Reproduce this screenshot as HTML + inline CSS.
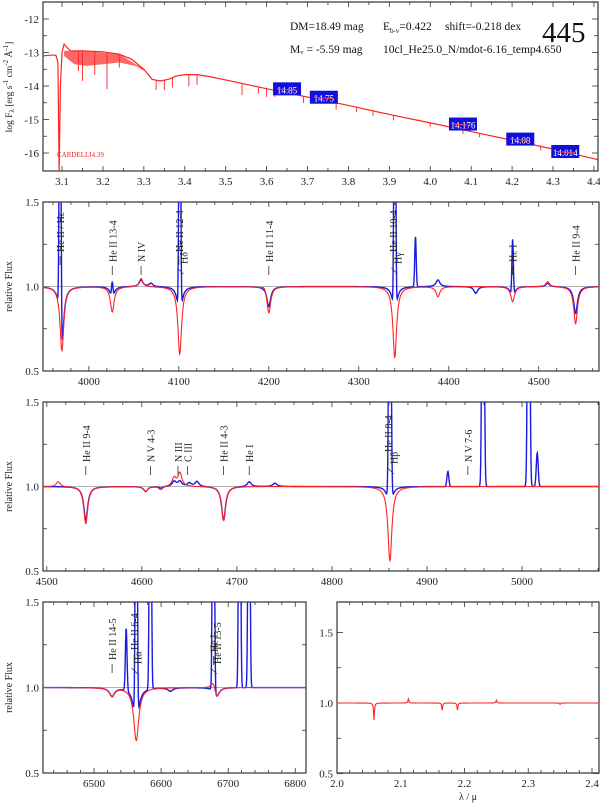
<!DOCTYPE html>
<html><head><meta charset="utf-8"><style>
html,body{margin:0;padding:0;background:#fff}
svg{display:block;font-family:"Liberation Serif",serif}
</style></head><body>
<svg id="fig" width="600" height="806" viewBox="0 0 600 806" xmlns="http://www.w3.org/2000/svg">
<defs>
<clipPath id="c1"><rect x="43" y="2" width="555" height="169"/></clipPath>
<clipPath id="c2"><rect x="43" y="202" width="556" height="169"/></clipPath>
<clipPath id="c3"><rect x="43" y="402" width="556" height="169"/></clipPath>
<clipPath id="c4"><rect x="43" y="602" width="263" height="171"/></clipPath>
<clipPath id="c5"><rect x="337" y="602" width="262" height="171"/></clipPath>
</defs>
</svg>
<script>
// ---- SED panel data ----
const sedX = [3.054,3.07,3.085,3.090,3.093,3.096,3.100,3.105,3.12,3.15,3.2,3.24,3.27,3.30,3.32,3.34,3.36,3.38,3.40,3.43,3.46,3.5,3.55,3.6,3.7,3.8,3.9,4.0,4.1,4.2,4.3,4.41];
const sedY = [-13.1,-13.08,-13.08,-13.3,-16.6,-14.0,-13.0,-12.75,-12.95,-12.95,-12.98,-13.05,-13.2,-13.5,-13.8,-13.85,-13.8,-13.7,-13.66,-13.66,-13.72,-13.82,-13.95,-14.08,-14.33,-14.58,-14.85,-15.1,-15.36,-15.62,-15.88,-16.2];
const forestX = [3.105,3.13,3.16,3.2,3.24,3.28,3.30];
const forestY = [-13.1,-13.35,-13.4,-13.35,-13.3,-13.4,-13.55];
const sedLineX = [3.14,3.15,3.18,3.21,3.24,3.33,3.35,3.37,3.41,3.43,3.54,3.58,3.6,3.62,3.69,3.77,3.82,3.86,3.91,4.0,4.08,4.12,4.27];
const sedLineD = [0.6,0.9,0.7,1.1,0.4,0.3,0.3,0.3,0.35,0.3,0.35,0.2,0.25,0.2,0.2,0.2,0.15,0.15,0.15,0.12,0.12,0.12,0.12];
const photX = [3.65,3.74,4.08,4.22,4.33];
const photY = [-14.1,-14.35,-15.15,-15.6,-15.97];
const photLabels = ["14.85","14.75","14.176","14.08","14.014"];
// ---- Panel 2 lines (4000-4550) ----
const p2C = [3970,4026,4058,4069,4101,4195,4200,4340,4388,4430,4471,4510,4541];
const p2Model = [-0.38,-0.15,0.05,0,-0.40,0.02,-0.16,-0.42,-0.06,0,-0.09,0.03,-0.22];
const p2Obs = [-0.35,-0.07,0.04,0.02,-0.20,0,-0.12,-0.18,0.04,-0.04,-0.07,0.02,-0.16];
const p2Spike = [3968,4026,4101,4340,4363,4471];
const p2SpikeAmp = [3,0.1,3,3,0.3,0.35];
// ---- Panel 3 lines (4500-5080) ----
const p3C = [4512,4541,4604,4620,4634,4640,4650,4658,4686,4713,4740,4861];
const p3Model = [0.03,-0.22,-0.03,-0.02,0.05,0.08,0,0,-0.2,0,0,-0.44];
const p3Obs = [0.0,-0.2,-0.03,-0.01,0.03,0.03,0.02,0.03,-0.2,0.03,0.02,-0.15];
const p3Spike = [4861,4922,4959,5007,5016];
const p3SpikeAmp = [3,0.09,3,3,0.2];
// ---- Panel 4 lines (6450-6820) ----
const p4C = [6527,6563,6614,6678,6683];
const p4Model = [-0.05,-0.31,0,0.05,-0.07];
const p4Obs = [-0.05,-0.22,-0.02,0,-0.05];
const p4Spike = [6548,6563,6584,6678,6717,6731];
const p4SpikeAmp = [0.37,3,3,3,3,3];
// ---- Panel 5 (K band, micron) ----
const p5C = [2.058,2.112,2.165,2.189,2.25,2.35];
const p5Model = [-0.12,0.03,-0.05,-0.05,0.02,-0.01];

const NS="http://www.w3.org/2000/svg";
const svg=document.getElementById('fig');
function el(tag,attrs,parent){const e=document.createElementNS(NS,tag);for(const k in attrs)e.setAttribute(k,attrs[k]);(parent||svg).appendChild(e);return e;}
function scale(d0,d1,r0,r1){return v=>r0+(v-d0)/(d1-d0)*(r1-r0);}

function frame(P){
  const g=el('g',{});
  
  
  const r=el('rect',{x:P.l,y:P.t,width:P.r-P.l,height:P.b-P.t,fill:'none',stroke:'#333','stroke-width':1.2},g);
  
  
  for(let v=Math.ceil(P.x0/P.xm)*P.xm; v<=P.x1; v+=P.xm){
    const x=P.sx(v); const maj=Math.abs(v/P.xM-Math.round(v/P.xM))<1e-6;
    const L=maj?5:3;
    el('line',{x1:x,x2:x,y1:P.b,y2:P.b-L,stroke:'#333','stroke-width':0.8},g);
    el('line',{x1:x,x2:x,y1:P.t,y2:P.t+L,stroke:'#333','stroke-width':0.8},g);
    if(maj){const t=el('text',{x:x,y:P.b+14,'text-anchor':'middle','font-size':11,fill:'#222'},g);
      t.textContent=P.xfmt(v);
      
      }
  }
  for(let i=0;i<P.yt.length;i++){
    const v=P.yt[i]; const y=P.sy(v); const lab=P.yl[i];
    const L=lab!==''?6:4;
    el('line',{x1:P.l,x2:P.l+L,y1:y,y2:y,stroke:'#333','stroke-width':0.8},g);
    el('line',{x1:P.r,x2:P.r-L,y1:y,y2:y,stroke:'#333','stroke-width':0.8},g);
    if(lab!==''){const t=el('text',{x:P.l-4,y:y+4,'text-anchor':'end','font-size':11,fill:'#222'},g);
      t.textContent=lab;
      
      }
  }
  return g;
}
function prof(x,c,a,w){const u=(x-c)/w;return a/(1+u*u);}
function gprof(x,c,a,w){const u=(x-c)/w;return a*Math.exp(-0.5*u*u);}
function spec(P,cs,amps,w,spikes,spAmp,spW,color,sw,clip,name){
  let d='';const n=Math.round((P.r-P.l)*3);
  for(let i=0;i<=n;i++){
    const x=P.x0+(P.x1-P.x0)*i/n; let f=1;
    for(let j=0;j<cs.length;j++) f+=prof(x,cs[j],amps[j],w);
    if(spikes) for(let j=0;j<spikes.length;j++) f+=gprof(x,spikes[j],spAmp[j],spW);
    let y=P.sy(f); y=Math.max(P.t-20,Math.min(P.b+20,y));
    d+=(i?'L':'M')+P.sx(x).toFixed(2)+','+y.toFixed(2);
  }
  const p=el('path',{d:d,fill:'none',stroke:color,'stroke-width':sw,'clip-path':'url(#'+clip+')'});
  
  
}
function ylab(x,y,txt,name){
  const t=el('text',{x:x,y:y,'text-anchor':'middle','font-size':10,fill:'#222',transform:'rotate(-90 '+x+' '+y+')'});
  t.textContent=txt;
  
  
  return t;
}
function ident(P,w,txt,yEnd,slant,name){
  const x=P.sx(w);
  const g=el('g',{});
  
  
  if(slant){el('line',{x1:x,y1:yEnd+12,x2:x-6,y2:yEnd+6,stroke:'#333','stroke-width':0.7},g);}
  else el('line',{x1:x,y1:yEnd+4,x2:x,y2:yEnd+13,stroke:'#333','stroke-width':0.8},g);
  const tx=x+4, ty=yEnd+(slant?2:0);
  const t=el('text',{x:tx,y:ty,'text-anchor':'start','font-size':10,fill:'#222',transform:'rotate(-90 '+tx+' '+ty+')'},g);
  t.textContent=txt;
}

// ---------- Panel 1 : SED ----------
const P1={name:'sed-panel',l:43,r:598,t:2,b:171,x0:3.0535,x1:4.41,xm:0.05,xM:0.1,xfmt:v=>v.toFixed(1)};
P1.sx=scale(P1.x0,P1.x1,P1.l,P1.r);P1.sy=v=>19+(-12-v)*33.5;
P1.yt=[-12,-12.5,-13,-13.5,-14,-14.5,-15,-15.5,-16];P1.yl=['-12','','-13','','-14','','-15','','-16'];
frame(P1);
{
  let d='';for(let i=0;i<sedX.length;i++)d+=(i?'L':'M')+P1.sx(sedX[i]).toFixed(2)+','+P1.sy(sedY[i]).toFixed(2);
  let f='M'+P1.sx(forestX[0])+','+P1.sy(-12.95);
  for(let i=0;i<forestX.length;i++)f+='L'+P1.sx(forestX[i]).toFixed(2)+','+P1.sy(forestY[i]).toFixed(2);
  f+='L'+P1.sx(3.30)+','+P1.sy(-13.5)+'L'+P1.sx(3.24)+','+P1.sy(-13.05)+'L'+P1.sx(3.15)+','+P1.sy(-12.95)+'Z';
  const fp=el('path',{d:f,fill:'#f33','fill-opacity':0.75,stroke:'none','clip-path':'url(#c1)'});
  
  
  for(let i=0;i<sedLineX.length;i++){
    let yc=-13;for(let j=1;j<sedX.length;j++)if(sedX[j]>=sedLineX[i]){const k=(sedLineX[i]-sedX[j-1])/(sedX[j]-sedX[j-1]);yc=sedY[j-1]+k*(sedY[j]-sedY[j-1]);break;}
    const ln=el('line',{x1:P1.sx(sedLineX[i]),x2:P1.sx(sedLineX[i]),y1:P1.sy(yc),y2:P1.sy(yc-sedLineD[i]),stroke:'#f22','stroke-width':0.9,'clip-path':'url(#c1)'});
    
    
  }
  const p=el('path',{d:d,fill:'none',stroke:'#f22','stroke-width':1.2,'clip-path':'url(#c1)'});
  
  
  for(let i=0;i<photX.length;i++){
    const cx=P1.sx(photX[i]),cy=P1.sy(photY[i]);
    const r=el('rect',{x:cx-14,y:cy-7,width:28,height:13,fill:'#1010dd'});
    
    
    const t=el('text',{x:cx,y:cy+4,'text-anchor':'middle','font-size':9,fill:'#fff'});
    t.textContent=photLabels[i];
    
    
    el('line',{x1:cx-10,x2:cx+10,y1:cy-0.5,y2:cy+1,stroke:'#f44','stroke-width':1});
  }
  const c=el('text',{x:57,y:157,'font-size':7,fill:'#e22'});c.textContent='CARDELLI4.39';
  
  const info=[[290,30,'DM=18.49 mag','distance-modulus'],[445,30,'shift=-0.218 dex','flux-shift'],[290,53,'M\u1d65 =  -5.59 mag','absolute-magnitude'],[383,53,'10cl_He25.0_N/mdot-6.16_temp4.650','model-name']];
  for(const a of info){const t=el('text',{x:a[0],y:a[1],'font-size':11.5,fill:'#111'});t.textContent=a[2];}
  const e=el('text',{x:383,y:30,'font-size':11.5,fill:'#111'});e.innerHTML='E<tspan font-size="7" dy="3">b-v</tspan><tspan dy="-3">=0.422</tspan>';
  
  const n=el('text',{x:542,y:42,'font-size':29,fill:'#111'});n.textContent='445';
  
  const yl=el('text',{x:12,y:87,'text-anchor':'middle','font-size':9.5,fill:'#222',transform:'rotate(-90 12 87)'});
  yl.innerHTML='log F<tspan font-size="7" dy="2">\u03bb</tspan><tspan dy="-2"> [erg s</tspan><tspan font-size="7" dy="-4">-1</tspan><tspan dy="4"> cm</tspan><tspan font-size="7" dy="-4">-2</tspan><tspan dy="4"> \u00c5</tspan><tspan font-size="7" dy="-4">-1</tspan><tspan dy="4">]</tspan>';
  
}

function specPanel(P,clip,cs,model,obs,sp,spA,wM,wO,idents){
  frame(P);
  const g=el('line',{x1:P.l,x2:P.r,y1:P.sy(1),y2:P.sy(1),stroke:'#999','stroke-width':0.8});
  
  if(obs) spec(P,cs,obs,wO,sp,spA,P.spW,'#1a1ae0',1.4,clip,'observed-spectrum');
  spec(P,cs,model,wM,null,null,0,'#f22',1.1,clip,'model-spectrum');
  ylab(12,(P.t+P.b)/2,'relative Flux','y-axis-title');
  for(const a of idents) ident(P,a[0],a[1],a[2],a[3],'line-id');
}
const yt=[0.5,0.75,1,1.25,1.5],ylL=['0.5','','1.0','','1.5'];
const P2={name:'blue-spectrum-panel-1',l:43,r:599,t:202,b:371,x0:3949,x1:4567,xm:20,xM:100,xfmt:v=>v.toFixed(0),yt:yt,yl:ylL,spW:0.8};
P2.sx=scale(P2.x0,P2.x1,P2.l,P2.r);P2.sy=scale(0.5,1.5,371,202);
specPanel(P2,'c2',p2C,p2Model,p2Obs,p2Spike,p2SpikeAmp,2.5,2.5,[[3968,'He II / H\u03b5',252,false],[4026,'He II 13-4',262,false],[4058,'N IV',262,false],[4100,'He II 12-4',252,false],[4105,'H\u03b4',262,true],[4200,'He II 11-4',262,false],[4338,'He II 10-4',252,false],[4343,'H\u03b3',262,true],[4471,'He I',262,false],[4541,'He II 9-4',262,false]]);

const P3={name:'blue-spectrum-panel-2',l:43,r:599,t:402,b:571,x0:4496,x1:5081,xm:20,xM:100,xfmt:v=>v.toFixed(0),yt:yt,yl:ylL,spW:1};
P3.sx=scale(P3.x0,P3.x1,P3.l,P3.r);P3.sy=scale(0.5,1.5,571,402);
specPanel(P3,'c3',p3C,p3Model,p3Obs,p3Spike,p3SpikeAmp,2.5,2.5,[[4541,'He II 9-4',462,false],[4609,'N V 4-3',462,false],[4638,'N III',462,false],[4648,'C III',462,false],[4686,'He II 4-3',462,false],[4713,'He I',462,false],[4859,'He II 8-4',452,false],[4865,'H\u03b2',462,true],[4943,'N V 7-6',462,false]]);

const P4={name:'halpha-panel',l:43,r:306,t:602,b:773,x0:6424,x1:6816,xm:20,xM:100,xfmt:v=>v.toFixed(0),yt:yt,yl:ylL,spW:1.2};
P4.sx=scale(P4.x0,P4.x1,P4.l,P4.r);P4.sy=scale(0.5,1.5,773,602);
specPanel(P4,'c4',p4C,p4Model,p4Obs,p4Spike,p4SpikeAmp,4.5,4.5,[[6527,'He II 14-5',660,false],[6560,'He II 6-4',650,false],[6565,'H\u03b1',662,true],[6678,'He I',652,false],[6683,'He II 13-5',662,true]]);

const P5={name:'k-band-panel',l:337,r:599,t:602,b:773,x0:2.0,x1:2.411,xm:0.02,xM:0.1,xfmt:v=>v.toFixed(1),yt:[0.5,0.75,1,1.25,1.5],yl:['0.5','','1.0','','1.5'],spW:0.001};
P5.sx=scale(P5.x0,P5.x1,P5.l,P5.r);P5.sy=v=>703-(v-1)*141;
frame(P5);
spec(P5,p5C,p5Model,0.0008,null,null,0,'#f22',1.1,'c5','model-spectrum-k');
{const t=el('text',{x:468,y:800,'text-anchor':'middle','font-size':10,fill:'#222'});t.textContent='\u03bb / \u03bc';
}
</script>
</body></html>
